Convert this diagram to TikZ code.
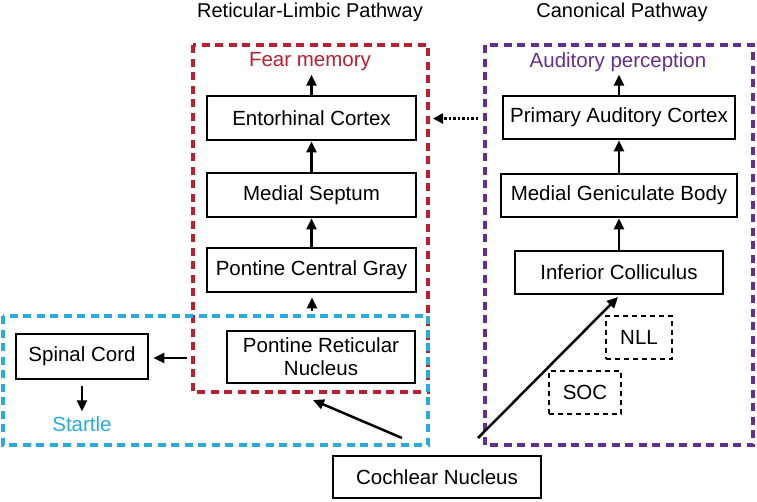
\documentclass[tikz,border=0pt]{standalone}
\usepackage{fontspec}
\setmainfont{Liberation Sans}
\usetikzlibrary{arrows.meta}
\definecolor{rlred}{HTML}{BE1E2D}
\definecolor{stblue}{HTML}{29ABE2}
\definecolor{cnpurple}{HTML}{662D91}
\begin{document}
\begin{tikzpicture}[x=1pt,y=-1pt,
  box/.style={draw,line width=2.8pt,inner sep=0pt,align=center,font=\fontsize{20.5}{23}\selectfont},
  dbox/.style={draw,line width=2.4pt,dash pattern=on 5pt off 4pt,inner sep=0pt,font=\fontsize{20.5}{23}\selectfont},
  region/.style={line width=4.6pt,dash pattern=on 8pt off 5.5pt},
  arr/.style={line width=2.5pt,-{Triangle[length=11pt,width=10pt]}},
  lbl/.style={inner sep=0pt,font=\fontsize{20.5}{23}\selectfont},
  ttl/.style={inner sep=0pt,font=\fontsize{20}{23}\selectfont}
]
\useasboundingbox (0,0) rectangle (757,501);

% regions
\draw[region,rlred] (193,45) rectangle (428,392);
\draw[region,stblue] (3,316) rectangle (428,445);
\draw[region,cnpurple] (485,45) rectangle (753,445);

% titles
\node[ttl] (t1) at (310,12) {Reticular-Limbic Pathway};
\node[ttl] (t2) at (622,12) {Canonical Pathway};

% labels
\node[lbl,text=rlred] (fear) at (310,62) {Fear memory};
\node[lbl,text=cnpurple] (aud) at (618,62) {Auditory perception};
\node[lbl,text=stblue] (startle) at (82,424) {Startle};

% left column
\node[box,minimum width=209pt,minimum height=44pt] (ec) at (311.5,118) {Entorhinal Cortex};
\node[box,minimum width=209pt,minimum height=44pt] (ms) at (311.5,195) {Medial Septum};
\node[box,minimum width=209pt,minimum height=44pt] (pcg) at (311.5,270) {Pontine Central Gray};
\node[box,minimum width=188pt,minimum height=52pt] (prn) at (321,357) {Pontine Reticular\\Nucleus};
\node[box,minimum width=132pt,minimum height=45pt] (sc) at (82,356.5) {Spinal Cord};

% right column
\node[box,minimum width=232pt,minimum height=43pt] (pac) at (619,117.5) {Primary Auditory Cortex};
\node[box,minimum width=236pt,minimum height=43pt] (mgb) at (619,195.5) {Medial Geniculate Body};
\node[box,minimum width=208pt,minimum height=43pt] (ic) at (619,272.5) {Inferior Colliculus};
\node[dbox,minimum width=66pt,minimum height=43pt] (nll) at (639,337.5) {NLL};
\node[dbox,minimum width=72pt,minimum height=43pt] (soc) at (585,392.5) {SOC};

\node[box,minimum width=208pt,minimum height=42pt] (cn) at (437,477) {Cochlear Nucleus};

% coordinates for free arrow ends
\coordinate (prnup) at (312,311);
\coordinate (prnleft) at (187,358);
\coordinate (cnA) at (402,438);
\coordinate (prnin) at (313,400);
\coordinate (cnB) at (478,438);
\coordinate (icin) at (618,297);
\coordinate (dotS) at (478,118.5);
\coordinate (dotE) at (433,118.5);

% arrows
\draw[arr] (ec.north) -- ++(0,-20);
\draw[arr] (ms.north) -- (ec.south);
\draw[arr] (pcg.north) -- (ms.south);
\draw[arr,shorten >=4pt] (prnup) -- (pcg.south -| prnup);
\draw[arr,shorten >=4pt] (prnleft) -- (sc.east |- prnleft);
\draw[arr,shorten <=6pt] (sc.south) -- ++(0,31);
\draw[arr] (cnA) -- (prnin);
\draw[arr] (cnB) -- (icin);
\draw[arr] (ic.north) -- (mgb.south);
\draw[arr] (mgb.north) -- (pac.south);
\draw[arr] (pac.north) -- ++(0,-20);
\draw[line width=2.6pt,dash pattern=on 2.5pt off 2pt,-{Triangle[length=10pt,width=10pt]}] (dotS) -- (dotE);
\end{tikzpicture}
\end{document}
